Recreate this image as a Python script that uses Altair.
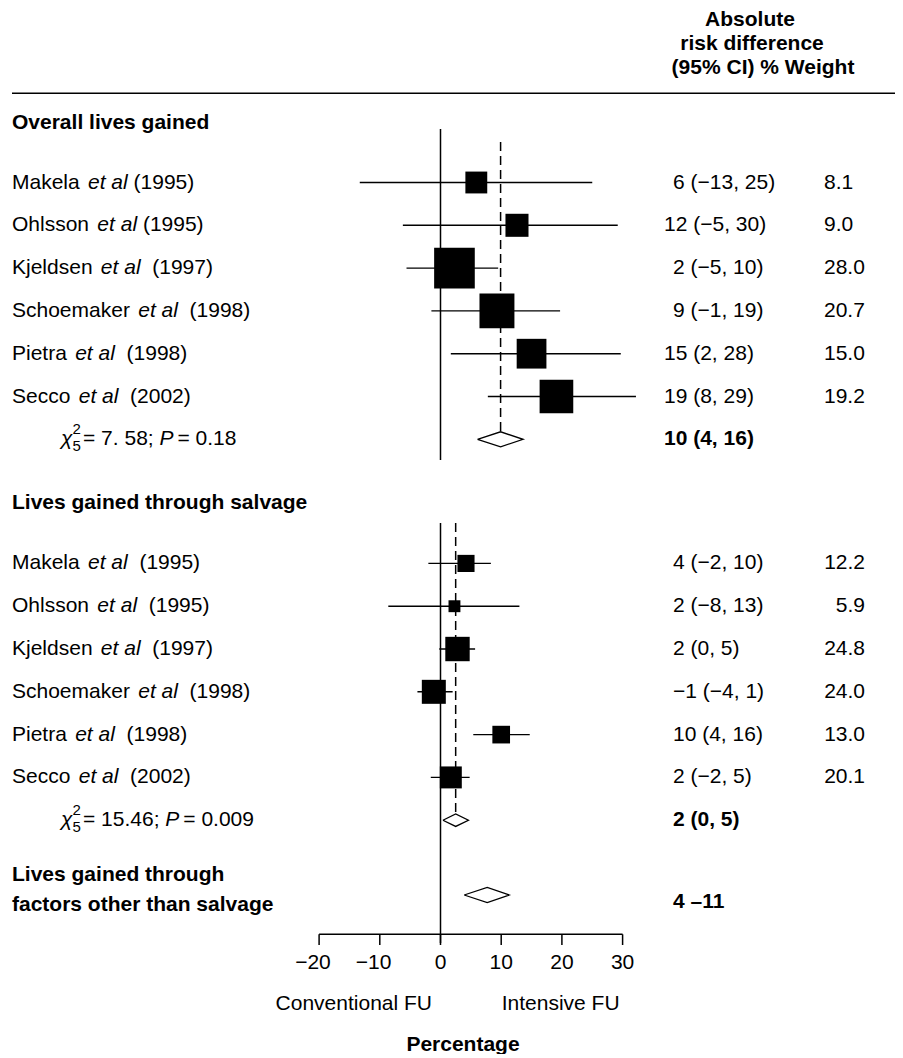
import altair as alt
import pandas as pd

# ---------------- data ----------------
overall_labels = ["Makela et al (1995)", "Ohlsson et al (1995)", "Kjeldsen et al  (1997)",
                  "Schoemaker et al  (1998)", "Pietra et al  (1998)", "Secco et al  (2002)"]
overall_est = [5.9, 12.6, 2.3, 9.3, 15.0, 19.1]
overall_lo = [-13.3, -6.2, -5.6, -1.5, 1.7, 7.8]
overall_hi = [25.0, 29.2, 9.5, 19.7, 29.7, 32.2]
overall_weight = [8.1, 9.0, 28.0, 20.7, 15.0, 19.2]
overall_ci_text = ["6 (\u221213, 25)", "12 (\u22125, 30)", "2 (\u22125, 10)",
                   "9 (\u22121, 19)", "15 (2, 28)", "19 (8, 29)"]
overall_pooled_text = "10 (4, 16)"
overall_diamond = [6.1, 9.9, 13.6]          # left, centre, right
overall_het = ["7. 58", "0.18"]

salvage_labels = ["Makela et al  (1995)", "Ohlsson et al  (1995)", "Kjeldsen et al  (1997)",
                  "Schoemaker et al  (1998)", "Pietra et al  (1998)", "Secco et al  (2002)"]
salvage_est = [4.2, 2.3, 2.8, -1.1, 10.0, 1.7]
salvage_lo = [-2.0, -8.6, -0.2, -3.8, 5.4, -1.6]
salvage_hi = [8.3, 13.0, 5.7, 2.0, 14.7, 4.8]
salvage_weight = [12.2, 5.9, 24.8, 24.0, 13.0, 20.1]
salvage_ci_text = ["4 (\u22122, 10)", "2 (\u22128, 13)", "2 (0, 5)",
                   "\u22121 (\u22124, 1)", "10 (4, 16)", "2 (\u22122, 5)"]
salvage_pooled_text = "2 (0, 5)"
salvage_diamond = [0.4, 2.5, 4.6]
salvage_het = ["15.46", "0.009"]

other_diamond = [3.9, 7.7, 11.3]
other_text = "4 \u201311"

tick_values = [-20, -10, 0, 10, 20, 30]
tick_labels = ["\u221220", "\u221210", "0", "10", "20", "30"]

header_lines = ["Absolute", "risk difference", "(95% CI) % Weight"]

# ---------------- layout ----------------
FONT = "Liberation Sans"
FS = 21
W, H = 887, 1046
X0_PAGE, PPU = 440.5, 6.07          # page x of 0 %, pixels per %
ROW0_PAGE, RH = 182.5, 42.8          # page y of first study row, row height
SALV0 = 8.9                          # first row of the salvage block


def xd(px):
    return (px - X0_PAGE) / PPU


def yr(py):
    return (py - ROW0_PAGE) / RH


REG_W = {" ": 278, "(": 333, ")": 333, ".": 278, ",": 278, ";": 278, "=": 584,
         "\u2212": 584, "\u2013": 556, "%": 889, "\u03c7": 500}
for c in "0123456789":
    REG_W[c] = 556
for c, w in zip("ABCDEFGHIJKLMNOPQRSTUVWXYZ",
                [667, 667, 722, 722, 667, 611, 778, 722, 278, 500, 667, 556, 833, 722, 778,
                 667, 778, 722, 667, 611, 722, 667, 944, 667, 667, 611]):
    REG_W[c] = w
for c, w in zip("abcdefghijklmnopqrstuvwxyz",
                [556, 556, 500, 556, 556, 278, 556, 556, 222, 222, 500, 222, 833, 556, 556,
                 556, 556, 333, 500, 278, 556, 500, 722, 500, 500, 500]):
    REG_W[c] = w


def tw(s, size=FS):
    return sum(REG_W.get(c, 556) for c in s) / 1000.0 * size


segs = []


def add(x_page, row, text, weight="normal", style="normal", size=FS, align="left", dy=0):
    segs.append(dict(x=xd(x_page), y=row, text=text, key=(weight, style, size, align, dy)))


# header
for txt, cx, py in zip(header_lines, [750, 752, 763], [19.5, 43.5, 67.5]):
    add(cx, yr(py), txt, weight="bold", align="center")

# section titles
add(12, yr(122.7), "Overall lives gained", weight="bold")
add(12, yr(503), "Lives gained through salvage", weight="bold")
add(12, yr(875), "Lives gained through", weight="bold")
add(12, yr(905), "factors other than salvage", weight="bold")


def add_study(label, row):
    name, rest = label.split(" et al")
    nsp = len(rest) - len(rest.lstrip(" "))
    add(12, row, name)
    x2 = 12 + tw(name + " ") + 2.5
    add(x2, row, "et al", style="italic")
    add(x2 + tw("et al") + nsp * tw(" "), row, rest.strip())


def add_het(row, chi, p):
    add(61, row, "\u03c7", style="italic")
    add(72.5, row, "2", size=15, dy=-10)
    add(72.5, row, "5", size=15, dy=6.5)
    s1 = "= " + chi + "; "
    add(83, row, s1)
    xp = 83 + tw(s1)
    add(xp, row, "P", style="italic")
    add(xp + tw("P") + 4, row, "= " + p)


overall_rows = [float(i) for i in range(6)]
salvage_rows = [SALV0 + i for i in range(6)]

for lab, r in zip(overall_labels, overall_rows):
    add_study(lab, r)
for lab, r in zip(salvage_labels, salvage_rows):
    add_study(lab, r)
add_het(6.0, *overall_het)
add_het(SALV0 + 6, *salvage_het)

# right-hand columns
for t, w, r in zip(overall_ci_text, overall_weight, overall_rows):
    add(664 if len(t.split(" ")[0]) > 1 else 673, r, t)
    add(824, r, f"{w:.1f}")
for t, w, r in zip(salvage_ci_text, salvage_weight, salvage_rows):
    add(673, r, t)
    add(865, r, f"{w:.1f}", align="right")
add(664, 6.0, overall_pooled_text, weight="bold")
add(673, SALV0 + 6, salvage_pooled_text, weight="bold")
add(673, yr(902), other_text, weight="bold")

# axis labels
for v, lab in zip(tick_values, tick_labels):
    off = tw("\u2212") / 2 if lab.startswith("\u2212") else 0
    add(X0_PAGE + v * PPU - off, yr(963.3), lab, align="center")
add(432, yr(1004), "Conventional FU", align="right")
add(501.7, yr(1004), "Intensive FU")
add(463, yr(1045), "Percentage", weight="bold", align="center")

# ---------------- scales ----------------
xs = alt.Scale(domain=[xd(8), xd(8 + W)], range=[0, W], nice=False, zero=False)
ys = alt.Scale(domain=[yr(8), yr(8 + H)], range=[0, H], nice=False, zero=False)


def X(f="x"):
    return alt.X(f"{f}:Q", scale=xs, axis=None)


def Y(f="y"):
    return alt.Y(f"{f}:Q", scale=ys, axis=None)


layers = []

# header rule
hdr = pd.DataFrame([dict(x=xd(12), x2=xd(895), y=yr(93.3))])
layers.append(alt.Chart(hdr).mark_rule(color="black", strokeWidth=1.6)
              .encode(x=X(), x2="x2", y=Y()))

# vertical lines of no effect
solid = pd.DataFrame([dict(x=0, y=yr(129), y2=yr(460)), dict(x=0, y=yr(523), y2=yr(943))])
layers.append(alt.Chart(solid).mark_rule(color="black", strokeWidth=1.5)
              .encode(x=X(), y=Y(), y2="y2"))

# dashed lines at pooled estimates
OV_HH, SV_HH, OT_HH = 7.5, 6.2, 7.5
dashed = pd.DataFrame([
    dict(x=overall_diamond[1], y=yr(142), y2=6.0 - OV_HH / RH),
    dict(x=salvage_diamond[1], y=yr(523), y2=SALV0 + 6 - SV_HH / RH),
])
layers.append(alt.Chart(dashed).mark_rule(color="black", strokeWidth=1.5, strokeDash=[9, 5])
              .encode(x=X(), y=Y(), y2="y2"))

# confidence intervals
ci = pd.DataFrame(
    [dict(lo=l, hi=h, y=r) for l, h, r in zip(overall_lo, overall_hi, overall_rows)] +
    [dict(lo=l, hi=h, y=r) for l, h, r in zip(salvage_lo, salvage_hi, salvage_rows)])
layers.append(alt.Chart(ci).mark_rule(color="black", strokeWidth=1.4)
              .encode(x=X("lo"), x2="hi", y=Y()))

# squares (area proportional to weight)
sq_o = pd.DataFrame(dict(x=overall_est, y=overall_rows, w=overall_weight))
sq_s = pd.DataFrame(dict(x=salvage_est, y=salvage_rows, w=salvage_weight))
layers.append(alt.Chart(sq_o).mark_square(color="black", opacity=1)
              .encode(x=X(), y=Y(),
                      size=alt.Size("w:Q", scale=alt.Scale(domain=[0, 30], range=[0, 30 * 59]),
                                    legend=None)))
layers.append(alt.Chart(sq_s).mark_square(color="black", opacity=1)
              .encode(x=X(), y=Y(),
                      size=alt.Size("w:Q", scale=alt.Scale(domain=[0, 30], range=[0, 30 * 24]),
                                    legend=None)))

# diamonds
dia_rows = []
for did, (d, r, hh) in enumerate([(overall_diamond, 6.0, OV_HH),
                                  (salvage_diamond, SALV0 + 6, SV_HH),
                                  (other_diamond, yr(895), OT_HH)]):
    lo, c, hi = d
    pts = [(lo, r), (c, r - hh / RH), (hi, r), (c, r + hh / RH), (lo, r)]
    for o, (px, py) in enumerate(pts):
        dia_rows.append(dict(id=did, o=o, x=px, y=py))
dia = pd.DataFrame(dia_rows)
layers.append(alt.Chart(dia).mark_line(color="black", strokeWidth=1.3)
              .encode(x=X(), y=Y(), order="o:Q", detail="id:N"))

# x axis drawn by hand
ax = pd.DataFrame([dict(x=tick_values[0], x2=tick_values[-1], y=yr(934.3))])
layers.append(alt.Chart(ax).mark_rule(color="black", strokeWidth=1.5)
              .encode(x=X(), x2="x2", y=Y()))
ticks = pd.DataFrame(dict(x=tick_values, y=[yr(934.3)] * len(tick_values),
                          y2=[yr(945)] * len(tick_values)))
layers.append(alt.Chart(ticks).mark_rule(color="black", strokeWidth=1.5)
              .encode(x=X(), y=Y(), y2="y2"))

# text layers
groups = {}
for s in segs:
    groups.setdefault(s["key"], []).append(dict(x=s["x"], y=s["y"], text=s["text"]))
for (weight, style, size, align, dy), rows in groups.items():
    df = pd.DataFrame(rows)
    layers.append(alt.Chart(df).mark_text(align=align, baseline="middle", font=FONT,
                                          fontSize=size, fontWeight=weight, fontStyle=style,
                                          dy=dy, color="black")
                  .encode(x=X(), y=Y(), text="text:N"))

chart = (alt.layer(*layers)
         .resolve_scale(size="independent")
         .properties(width=W, height=H, padding=0,
                     autosize=alt.AutoSizeParams(type="none"),
                     background="white")
         .configure_view(stroke=None))

chart.save("out.html", embed_options={"renderer": "svg", "actions": False})
